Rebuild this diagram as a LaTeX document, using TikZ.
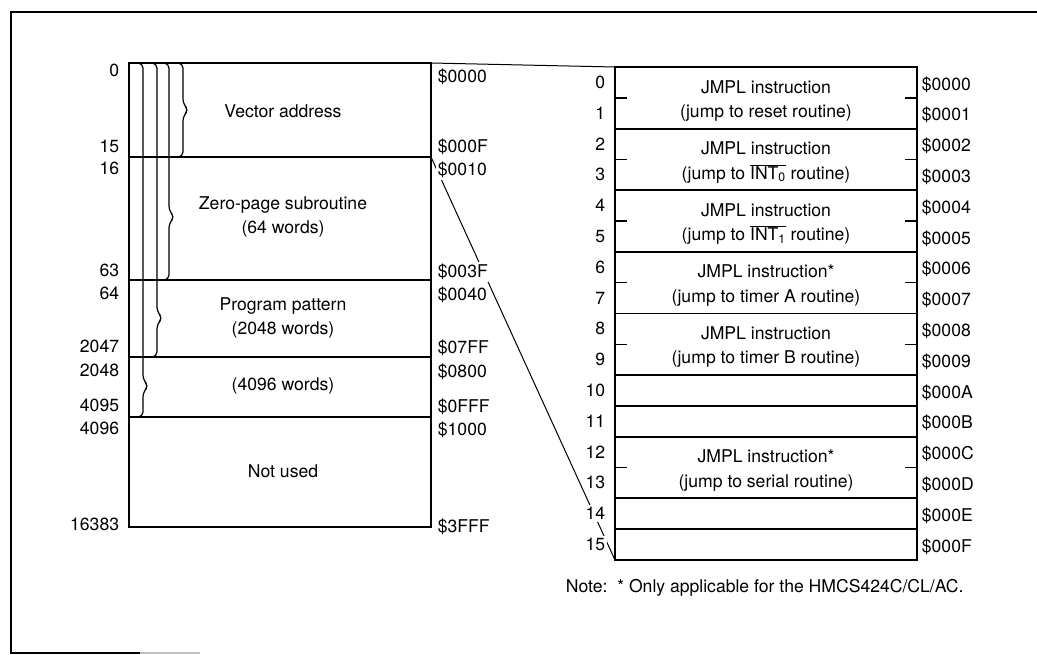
\documentclass[tikz,border=0pt]{standalone}
\usepackage{fontspec}
\setmainfont{TeX Gyre Heros}
\begin{document}
\begin{tikzpicture}[x=1pt,y=-1pt,line width=1.8pt,font=\fontsize{17.6}{24.5}\selectfont,
  lab/.style={inner sep=2pt,fill=white},
  txt/.style={align=center,inner sep=0pt},
  thinline/.style={line width=1pt},
  brc/.style={line width=1.2pt,rounded corners=5pt}]
\useasboundingbox (0,0) rectangle (1037,654);
\draw (1037,12)--(11,12)--(11,653)--(140,653);
\draw[gray!50] (140,653)--(200,653);
\coordinate (lt) at (431,63);\coordinate (lb) at (431,157);
\coordinate (rt) at (615,67);\coordinate (rb) at (615,560);
\draw (129,63) rectangle (431,527);
\foreach \y in {157,280,357,417} \draw (129,\y)--(431,\y);
\foreach \x/\b/\t in {183/157/110,169/280/217,157/357/318,143/417/386}
  \draw[brc] (\x-12,63)--(\x,63)--(\x,\t-6)--(\x+6,\t)--(\x,\t+6)--(\x,\b)--(\x-12,\b);
\draw (rt) rectangle (917,560);
\foreach \i in {2,4,6,8,10,11,12,14,15} \draw (615,{67+30.8*\i})--(917,{67+30.8*\i});
\foreach \i in {1,3,5,7,9,13} {
  \draw[line width=1.4pt] (615,{67+30.8*\i})--(627,{67+30.8*\i});
  \draw[line width=1.4pt] (905,{67+30.8*\i})--(917,{67+30.8*\i});}
\draw[thinline] (lt)--(rt);
\draw[thinline] (lb)--(rb);
\foreach \t/\y [count=\k] in {0/70,15/146,16/168,63/270,64/293,2047/346,2048/370,4095/405,4096/428,16383/524}
  \node[lab,anchor=east] (l\k) at (122,\y) {\t};
\foreach \t/\y [count=\k] in {0000/77,000F/147,0010/170,003F/272,0040/295,07FF/348,0800/372,0FFF/407,1000/430,3FFF/527}
  \node[lab,anchor=west] (a\k) at (435,\y) {\$\t};
\node[txt] (va) at (283,111) {Vector address};
\node[txt] (zp) at (283,217) {Zero-page subroutine\\(64 words)};
\node[txt] (pp) at (283,318) {Program pattern\\(2048 words)};
\node[txt] (pw) at (283,386) {(4096 words)};
\node[txt] (nu) at (283,471) {Not used};
\foreach \i in {0,...,15} \node[lab,anchor=east] (n\i) at (608,{67+30.8*(\i+.5)}) {\i};
\foreach \i/\h in {0/0,1/1,2/2,3/3,4/4,5/5,6/6,7/7,8/8,9/9,10/A,11/B,12/C,13/D,14/E,15/F}
  \node[anchor=west,inner sep=0pt] (h\i) at (921,{67+30.8*(\i+.5)+2}) {\$000\h};
\node[txt] (j0) at (766,{67+30.8*1+3}) {JMPL instruction\\(jump to reset routine)};
\node[txt] (j1) at (766,{67+30.8*3+3}) {JMPL instruction\\(jump to $\overline{\hbox{INT\textsubscript{0}}}$ routine)};
\node[txt] (j2) at (766,{67+30.8*5+3}) {JMPL instruction\\(jump to $\overline{\hbox{INT\textsubscript{1}}}$ routine)};
\node[txt] (j3) at (766,{67+30.8*7+3}) {JMPL instruction*\\(jump to timer A routine)};
\node[txt] (j4) at (766,{67+30.8*9+3}) {JMPL instruction\\(jump to timer B routine)};
\node[txt] (j5) at (766,{67+30.8*13+3}) {JMPL instruction*\\(jump to serial routine)};
\node[anchor=west,inner sep=0pt] (note) at (565,588) {Note:~~* Only applicable for the HMCS424C/CL/AC.};
\end{tikzpicture}
\end{document}
